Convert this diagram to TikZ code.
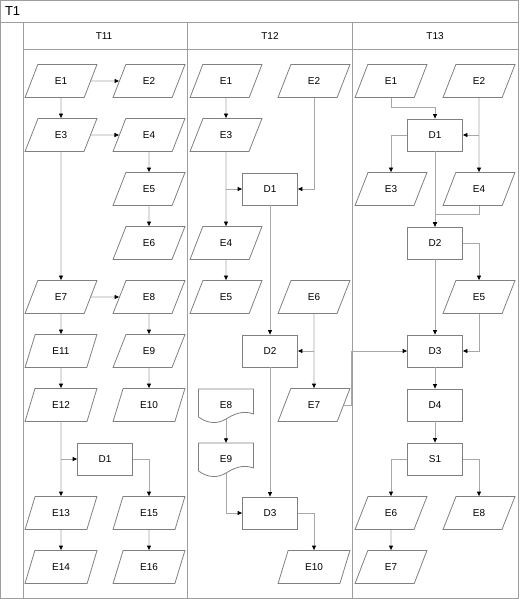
\documentclass[tikz,border=0pt]{standalone}
\usepackage{fontspec}
\setmainfont{Liberation Sans}
\usetikzlibrary{shapes.geometric,arrows.meta,calc}

\definecolor{framegray}{gray}{0.62}
\definecolor{shapegray}{gray}{0.5}
\definecolor{linegray}{gray}{0.66}

\tikzset{
  lbl/.style={font=\fontsize{10}{12}\selectfont},
  shapeline/.style={draw=shapegray, line width=0.8pt},
  datanode/.style={lbl, shapeline, trapezium, trapezium left angle=64, trapezium right angle=116,
    trapezium stretches=true, minimum width=72pt, minimum height=33pt, inner sep=0pt},
  procnode/.style={lbl, shapeline, rectangle, minimum width=55pt, minimum height=32pt, inner sep=0pt},
  docbox/.style={lbl, rectangle, minimum width=55pt, minimum height=32pt, inner sep=0pt},
  flow/.style={draw=linegray, line width=0.8pt, -{Triangle[length=4.5pt,width=4pt,color=black]}},
  frameline/.style={draw=framegray, line width=0.8pt},
}

% document shape with a wavy bottom
\newcommand\docnode[3]{%
  \node[docbox] (#1) at (#2) {#3};
  \draw[shapeline] ($(#1.center)+(-27.5,-16)$) -- ++(55,0) -- ++(0,25)
    .. controls +(-10.5,-4) and +(8,-5) .. ($(#1.center)+(0,14)$)
    .. controls +(-8,5) and +(9.5,7) .. ($(#1.center)+(-27.5,12)$) -- cycle;
  \coordinate (#1w) at ($(#1.center)+(0,14)$);
}

\begin{document}
\begin{tikzpicture}[x=1pt,y=-1pt]
  \useasboundingbox (0,0) rectangle (519,599);

  % frame and lanes
  \draw[frameline] (0.5,0.5) rectangle (518,598);
  \draw[frameline] (0.5,22) -- (518,22);
  \draw[frameline] (23,22) -- (23,598);
  \draw[frameline] (23,49.5) -- (518,49.5);
  \draw[frameline] (187.5,22) -- (187.5,598);
  \draw[frameline] (352,22) -- (352,598);
  \node[anchor=west, font=\fontsize{13}{15}\selectfont] (title) at (1.5,11) {T1};
  \node[lbl] (hT11) at (104,36) {T11};
  \node[lbl] (hT12) at (270,36) {T12};
  \node[lbl] (hT13) at (435,36) {T13};

  % lane T11
  \node[datanode] (aE1) at (61,81) {E1};
  \node[datanode] (aE2) at (149,81) {E2};
  \node[datanode] (aE3) at (61,135) {E3};
  \node[datanode] (aE4) at (149,135) {E4};
  \node[datanode] (aE5) at (149,189) {E5};
  \node[datanode] (aE6) at (149,243) {E6};
  \node[datanode] (aE7) at (61,297) {E7};
  \node[datanode] (aE8) at (149,297) {E8};
  \node[datanode] (aE11) at (61,351) {E11};
  \node[datanode] (aE9) at (149,351) {E9};
  \node[datanode] (aE12) at (61,405) {E12};
  \node[datanode] (aE10) at (149,405) {E10};
  \node[procnode] (aD1) at (105,459) {D1};
  \node[datanode] (aE13) at (61,513) {E13};
  \node[datanode] (aE15) at (149,513) {E15};
  \node[datanode] (aE14) at (61,567) {E14};
  \node[datanode] (aE16) at (149,567) {E16};

  \draw[flow] (aE1) -- (aE2);
  \draw[flow] (aE1) -- (aE3);
  \draw[flow] (aE3) -- (aE4);
  \draw[flow] (aE4) -- (aE5);
  \draw[flow] (aE5) -- (aE6);
  \draw[flow] (aE3) -- (aE7);
  \draw[flow] (aE7) -- (aE8);
  \draw[flow] (aE7) -- (aE11);
  \draw[flow] (aE11) -- (aE12);
  \draw[flow] (aE8) -- (aE9);
  \draw[flow] (aE9) -- (aE10);
  \draw[flow] (aE12) -- (aE13);
  \draw[flow] (aE12 |- aD1) -- (aD1);
  \draw[flow] (aD1) -| (aE15);
  \draw[flow] (aE13) -- (aE14);
  \draw[flow] (aE15) -- (aE16);

  % lane T12
  \node[datanode] (bE1) at (226,81) {E1};
  \node[datanode] (bE2) at (314,81) {E2};
  \node[datanode] (bE3) at (226,135) {E3};
  \node[procnode] (bD1) at (270,189) {D1};
  \node[datanode] (bE4) at (226,243) {E4};
  \node[datanode] (bE5) at (226,297) {E5};
  \node[datanode] (bE6) at (314,297) {E6};
  \node[procnode] (bD2) at (270,351) {D2};
  \docnode{bE8}{226,405}{E8}
  \node[datanode] (bE7) at (314,405) {E7};
  \docnode{bE9}{226,459}{E9}
  \node[procnode] (bD3) at (270,513) {D3};
  \node[datanode] (bE10) at (314,567) {E10};

  \draw[flow] (bE1) -- (bE3);
  \draw[flow] (bE3) -- (bE4);
  \draw[flow] (bE3 |- bD1) -- (bD1);
  \draw[flow] (bE2) |- (bD1);
  \draw[flow] (bD1) -- (bD2);
  \draw[flow] (bE4) -- (bE5);
  \draw[flow] (bE6) -- (bE7);
  \draw[flow] (bE6 |- bD2) -- (bD2);
  \draw[flow] (bD2) -- (bD3);
  \draw[flow] (bE8w) -- (bE9);
  \draw[flow] (bE9w) |- (bD3);
  \draw[flow] (bD3) -| (bE10);

  % lane T13
  \node[datanode] (cE1) at (391,81) {E1};
  \node[datanode] (cE2) at (479,81) {E2};
  \node[procnode] (cD1) at (435,135) {D1};
  \node[datanode] (cE3) at (391,189) {E3};
  \node[datanode] (cE4) at (479,189) {E4};
  \node[procnode] (cD2) at (435,243) {D2};
  \node[datanode] (cE5) at (479,297) {E5};
  \node[procnode] (cD3) at (435,351) {D3};
  \node[procnode] (cD4) at (435,405) {D4};
  \node[procnode] (cS1) at (435,459) {S1};
  \node[datanode] (cE6) at (391,513) {E6};
  \node[datanode] (cE8) at (479,513) {E8};
  \node[datanode] (cE7) at (391,567) {E7};

  \draw[flow] (cE1.south) -- ++(0,9.5) -| (cD1);
  \draw[flow] (cE2) -- (cE4);
  \draw[flow] (cE2 |- cD1) -- (cD1);
  \draw[flow] (cD1) -| (cE3);
  \draw[flow] (cD1) -- (cD2);
  \draw[flow] (cE4.south) -- ++(0,8) -| (cD2);
  \draw[flow] (cD2) -| (cE5);
  \draw[flow] (cE5) |- (cD3);
  \draw[flow] (cD2) -- (cD3);
  \draw[flow] (cD3) -- (cD4);
  \draw[flow] (cD4) -- (cS1);
  \draw[flow] (cS1) -| (cE6);
  \draw[flow] (cS1) -| (cE8);
  \draw[flow] (cE6) -- (cE7);

  % from T12 into T13
  \draw[flow] (bE7.east) -- ++(7,0) |- (cD3);
\end{tikzpicture}
\end{document}
